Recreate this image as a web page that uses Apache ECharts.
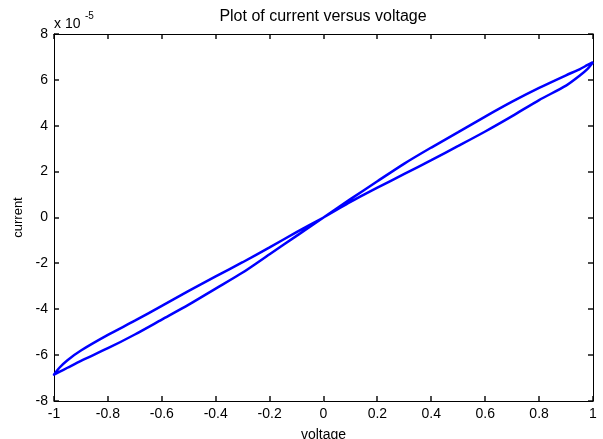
<!DOCTYPE html>
<html>
<head>
<meta charset="utf-8">
<title>Plot of current versus voltage</title>
<script src="https://cdn.jsdelivr.net/npm/echarts@6/dist/echarts.min.js"></script>
<style>
  html, body { margin: 0; padding: 0; background: #fff; }
  #chart { width: 603px; height: 439px; }
</style>
</head>
<body>
<div id="chart"></div>
<script>
// Voltage sample points (V), used for each branch of the loop
const voltageSteps = [0, 0.1, 0.2, 0.3, 0.4, 0.5, 0.6, 0.7, 0.8, 0.9, 0.95, 0.98, 1];

// Current in units of 1e-5 A at each voltage step
// positive half: rising sweep (inner branch) and falling sweep (outer branch)
const currentPosRise = [0, 0.68, 1.30, 1.90, 2.50, 3.12, 3.75, 4.42, 5.12, 5.75, 6.18, 6.48, 6.77];
const currentPosFall = [0, 0.80, 1.58, 2.35, 3.05, 3.72, 4.40, 5.05, 5.65, 6.20, 6.46, 6.65, 6.77];
// negative half (voltage = -step): falling sweep (outer branch) and return (inner branch)
const currentNegFall = [0, -0.80, -1.60, -2.40, -3.10, -3.80, -4.45, -5.10, -5.70, -6.25, -6.55, -6.73, -6.85];
const currentNegRise = [0, -0.64, -1.30, -1.95, -2.57, -3.20, -3.85, -4.50, -5.12, -5.80, -6.22, -6.55, -6.85];

const xTickLabels = ['-1', '-0.8', '-0.6', '-0.4', '-0.2', '0', '0.2', '0.4', '0.6', '0.8', '1'];
const yTickLabels = ['-8', '-6', '-4', '-2', '0', '2', '4', '6', '8'];

// Trace the closed loop: 0 -> 1 -> 0 -> -1 -> 0
const loop = [];
voltageSteps.forEach((v, k) => loop.push([v, currentPosRise[k]]));
for (let k = voltageSteps.length - 2; k >= 0; k--) loop.push([voltageSteps[k], currentPosFall[k]]);
for (let k = 1; k < voltageSteps.length; k++) loop.push([-voltageSteps[k], currentNegFall[k]]);
for (let k = voltageSteps.length - 2; k >= 0; k--) loop.push([-voltageSteps[k], currentNegRise[k]]);

// Inward tick marks on all four sides of the frame: [x, y, side]
// side 0 = bottom, 1 = top, 2 = left, 3 = right
const frameTicks = [];
xTickLabels.forEach(s => { frameTicks.push([+s, 0, 0]); frameTicks.push([+s, 0, 1]); });
yTickLabels.forEach(s => { frameTicks.push([0, +s, 2]); frameTicks.push([0, +s, 3]); });
const TICK_LEN = 5;

function renderTick(params, api) {
  const cs = params.coordSys;
  const side = api.value(2);
  let x1, y1, x2, y2;
  if (side < 2) {
    const px = Math.round(api.coord([api.value(0), 0])[0]);
    y1 = side === 0 ? cs.y + cs.height : cs.y;
    y2 = side === 0 ? y1 - TICK_LEN : y1 + TICK_LEN;
    x1 = x2 = px;
  } else {
    const py = Math.round(api.coord([0, api.value(1)])[1]);
    x1 = side === 2 ? cs.x : cs.x + cs.width;
    x2 = side === 2 ? x1 + TICK_LEN : x1 - TICK_LEN;
    y1 = y2 = py;
  }
  return { type: 'line', shape: { x1, y1, x2, y2 }, style: { stroke: '#000', lineWidth: 1.4 } };
}

const FONT = 'Liberation Sans, Arial, Helvetica, sans-serif';
const fmtX = v => { const s = String(+v.toFixed(1)); return xTickLabels.includes(s) ? s : ''; };
const fmtY = v => { const s = String(Math.round(v)); return yTickLabels.includes(s) ? s : ''; };

const frameAxis = {
  axisLine: { show: true, onZero: false, lineStyle: { color: '#000', width: 1 } },
  axisTick: { show: false },
  splitLine: { show: false }
};

const chart = echarts.init(document.getElementById('chart'), null, { renderer: 'canvas' });
chart.setOption({
  animation: false,
  backgroundColor: '#fff',
  graphic: [
    { type: 'text', x: 323, y: 17,
      style: { text: 'Plot of current versus voltage', align: 'center', verticalAlign: 'middle',
               fontFamily: FONT, fontSize: 16, fill: '#000' } },
    { type: 'text', x: 54, y: 24,
      style: { text: 'x 10', verticalAlign: 'middle', fontFamily: FONT, fontSize: 14, fill: '#000' } },
    { type: 'text', x: 85, y: 16,
      style: { text: '-5', verticalAlign: 'middle', fontFamily: FONT, fontSize: 10, fill: '#000' } }
  ],
  grid: { left: 54, right: 10, top: 34, bottom: 38, outerBoundsMode: 'none', containLabel: false },
  xAxis: [
    Object.assign({
      type: 'value', position: 'bottom', min: -1, max: 1, interval: 0.2,
      name: 'voltage', nameLocation: 'middle', nameGap: 27,
      nameTextStyle: { fontFamily: FONT, fontSize: 14, color: '#000' },
      axisLabel: { formatter: fmtX, fontFamily: FONT, fontSize: 14, color: '#000', margin: 6 }
    }, frameAxis),
    Object.assign({
      type: 'value', position: 'top', min: -1, max: 1, interval: 0.2,
      axisLabel: { show: false }
    }, frameAxis)
  ],
  yAxis: [
    Object.assign({
      type: 'value', position: 'left', min: -8, max: 8, interval: 2,
      name: 'current', nameLocation: 'middle', nameGap: 28, nameRotate: 90,
      nameTextStyle: { fontFamily: FONT, fontSize: 13, color: '#000' },
      axisLabel: { formatter: fmtY, fontFamily: FONT, fontSize: 14, color: '#000', margin: 6 }
    }, frameAxis),
    Object.assign({
      type: 'value', position: 'right', min: -8, max: 8, interval: 2,
      axisLabel: { show: false }
    }, frameAxis)
  ],
  series: [
    {
      type: 'line',
      data: loop,
      xAxisIndex: 0, yAxisIndex: 0,
      showSymbol: false,
      smooth: 0.25,
      lineStyle: { color: '#0000ff', width: 2.5 }
    },
    {
      type: 'custom',
      xAxisIndex: 0, yAxisIndex: 0,
      data: frameTicks,
      renderItem: renderTick,
      silent: true,
      clip: false,
      z: 5
    }
  ]
});
</script>
</body>
</html>
